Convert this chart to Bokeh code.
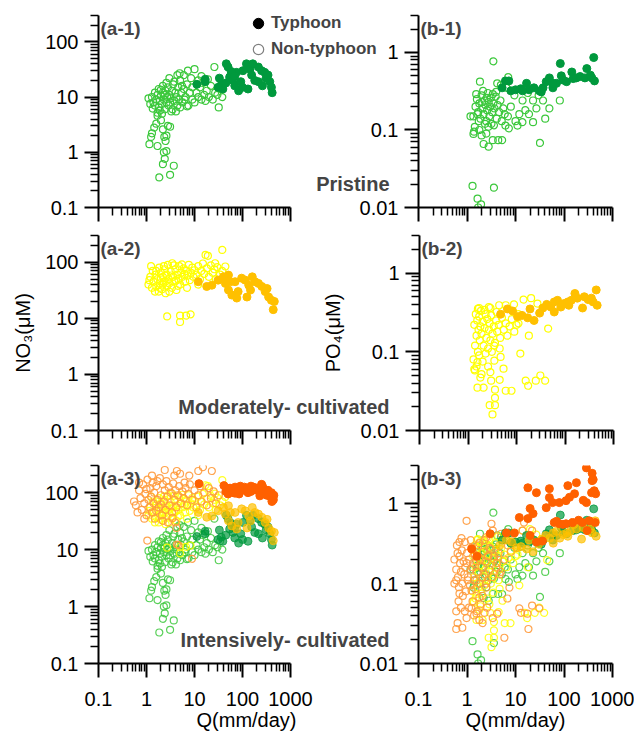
import math
from bokeh.plotting import figure
from bokeh.layouts import column, row
from bokeh.models import (Range1d, FixedTicker, CustomJSTickFormatter, Label,
                          Legend, LegendItem)
from bokeh.embed import file_html
from bokeh.resources import INLINE

FONT = "Liberation Sans"
NAN = float("nan")

# ---------------- data (Q mm/day, concentration uM) ----------------
PRI_NO3_NT = [(1.85,0.35),(3.1,0.39),(3.7,0.57),(2.2,0.61),(2.4,0.76),(2.3,1.0),(2.6,1.05),(1.15,1.4),(1.7,1.3),(1.3,2.2),(1.25,1.9),(2.35,1.9),(2.6,2.0),(2.2,2.6),(3.1,2.9),(1.7,4.6),(1.9,5.7),(1.6,3.3),(2.0,3.8),(2.8,3.0),(1.45,2.8),(2.5,1.6),
    (1.1,9.5),(1.3,10),(1.4,8),(1.5,7),(1.6,9),(1.7,11),(1.8,6.5),(1.9,8.5),(2.0,10.5),(2.1,7.5),(2.2,12),(2.3,9),(2.4,6),(2.5,13),(2.6,8),(2.7,10),(2.8,15),(2.9,7),(3.0,11),(3.2,9.5),(3.4,13),(3.5,6),(3.6,17),(3.8,8.5),(4.0,12),(4.2,10),(4.4,7),(4.6,15),(4.8,9),(5.0,20),(5.3,12),(5.6,8),(6.0,14),(6.5,10),(7.0,17),(7.5,7),(8.0,12),(9.0,9),(1.5,12),(1.8,14),(2.2,16),(2.6,18),(3.0,22),(3.3,5.5),(1.7,5.2),(2.1,5.0),(4.4,25),(3.8,19),(5.5,16),(1.2,7.5),(1.35,6.2),(2.4,11),(3.1,8),(2.0,13.5),(4.1,5.5),(5.0,6.5),(6.2,9),(7.0,6.8),
    (4.9,27),(7.3,30),(10,32),(26,35),(32,6.5),(38,10),(10,8),(11,12),(12,10),(13,15),(14,9),(15,18),(16,11),(17,8.5),(18,13),(20,10),(22,16),(24,9),(27,12),(30,11),(34,14),(12,20),(9,15),(8.5,22),(14,24),(19,21),(6,25)]
PRI_NO3_T = [(11.2,17),(16.7,21),(16.7,19),(33,22),(36,16.5),(46,40),(50,35),(54,23),(63,20),(69,16),(83,13),(92,19),(75,28),(102,30),(121,40),(143,32),(155,25),(164,40),(214,35),(290,28),(310,22),(370,19),(400,15),(415,12),(215,19),(180,20),(260,16),(130,14),(39,14),(31,15),(58,29),(69,24),(340,25),(100,15),(250,30),(45,18)]

PRI_PO4_NT = [(3.5,0.77),(1.85,0.42),(7.1,0.48),(1.3,0.019),(3.6,0.018),(1.65,0.013),(1.95,0.011),(1.7,0.010),(32,0.068),
    (1.18,0.15),(1.35,0.15),(1.45,0.11),(1.36,0.089),(1.4,0.095),(2.2,0.066),(2.8,0.061),(3.4,0.074),(4.4,0.074),(5.3,0.074),(2.0,0.085),(2.5,0.09),(1.8,0.1),
    (1.5,0.2),(1.6,0.25),(1.7,0.17),(1.8,0.22),(1.9,0.14),(2.0,0.28),(2.1,0.19),(2.2,0.16),(2.3,0.24),(2.4,0.21),(2.5,0.13),(2.6,0.18),(2.7,0.3),(2.8,0.23),(2.9,0.15),(3.0,0.2),(3.1,0.26),(3.2,0.12),(3.3,0.17),(3.5,0.22),(3.7,0.19),(3.9,0.27),(4.1,0.14),(4.3,0.21),(4.6,0.17),(4.9,0.24),(5.2,0.13),(5.6,0.19),(6.0,0.16),(1.55,0.29),(1.75,0.13),(2.15,0.32),(2.55,0.26),(3.4,0.29),(4.0,0.31),(2.35,0.12),(2.05,0.23),(2.75,0.11),(3.6,0.115),(1.65,0.16),
    (82,0.24),(50,0.19),(41,0.14),(23,0.126),(19,0.16),(13.9,0.126),(11,0.114),(7.3,0.105),(6.2,0.114),(23,0.24),(37,0.24),(14,0.24),(27,0.19),(16,0.18),(12,0.16),(8,0.2),(9.5,0.28),(7,0.15),(10,0.13),(18,0.3),(30,0.28),(6.5,0.35),(5,0.38),(4.2,0.4)]
PRI_PO4_T = [(5.3,0.35),(6.2,0.43),(7.3,0.43),(8,0.32),(10,0.33),(12.8,0.34),(16.9,0.40),(19,0.33),(24,0.35),(34,0.31),(37,0.35),(43,0.42),(50,0.47),(59,0.35),(70,0.40),(84,0.72),(88,0.50),(96,0.44),(113,0.42),(145,0.56),(155,0.46),(180,0.47),(215,0.49),(270,0.47),(295,0.62),(350,0.51),(410,0.86),(425,0.43),(375,0.47),(59,0.40),(31,0.32),(14,0.32)]

MOD_NO3_NT = [(1.1,40),(1.2,55),(1.3,35),(1.35,70),(1.4,45),(1.5,30),(1.55,60),(1.6,37),(1.7,50),(1.8,30),(1.85,80),(1.9,42),(2.0,65),(2.1,33),(2.2,55),(2.3,45),(2.4,75),(2.5,28),(2.6,60),(2.7,38),(2.8,90),(2.9,50),(3.0,42),(3.2,68),(3.4,35),(3.45,96),(3.6,55),(3.8,45),(4.0,75),(4.2,32),(4.4,60),(4.6,50),(4.8,85),(5.0,40),(5.3,65),(5.6,55),(6.0,78),(6.4,45),(6.8,70),(7.2,58),(7.6,90),(8.0,48),(8.5,65),(9.0,80),(9.5,55),(10,72),(11,60),(12,85),(13,50),(14,70),(15,95),(16,62),(18,78),(20,55),(22,88),(24,65),(26,75),(28,50),(30,82),(34,60),(38,70),(17,135),(19,130),(38,166),(27,96),(44,84),
    (2.7,10.8),(5.0,11.2),(6.7,11.2),(8.3,11.8),(5.0,8.6),(1.25,85),(2.2,40),(3.0,30),(4.5,38),(7,35),(12,40),(1.15,48),(1.6,70),(2.3,85),(3.7,88),(5.5,92),(2.0,52),(3.3,58),(4.1,47),(6.2,62),(1.9,35),(2.5,45)]
MOD_NO3_T = [(12,45),(18,37),(23,39),(31,48),(40,55),(51,59),(44,42),(51,32),(60,26),(76,23),(81,30),(96,52),(114,48),(135,39),(147,32),(182,45),(215,42),(253,37),(297,30),(350,24),(325,34),(400,21),(460,20),(437,14.3),(70,45),(124,24),(56,45),(160,55)]

MOD_PO4_NT = [(1.69,0.36),(2.7,0.37),(4.4,0.39),(6.0,0.39),(8.9,0.40),(14,0.46),(20,0.48),(27,0.41),(45,0.197),(12,0.095),(15.5,0.043),(17.4,0.037),(25,0.043),(31,0.050),(39,0.043),(18,0.16),(11,0.23),(5.4,0.061),(4.5,0.044),(6.0,0.032),(7.9,0.032),(3.6,0.033),(3.6,0.026),(2.8,0.021),(3.6,0.021),(3.2,0.016),(2.1,0.035),(1.57,0.035),(1.39,0.058),(1.57,0.074),(1.8,0.047),(2.9,0.055),(3.5,0.077),(3.0,0.043),(4.7,0.086),
    (1.35,0.22),(1.4,0.12),(1.45,0.3),(1.5,0.16),(1.55,0.25),(1.6,0.1),(1.65,0.19),(1.7,0.28),(1.75,0.14),(1.8,0.21),(1.85,0.33),(1.9,0.17),(2.0,0.24),(2.1,0.12),(2.2,0.2),(2.3,0.3),(2.4,0.15),(2.5,0.26),(2.6,0.11),(2.7,0.19),(2.8,0.23),(2.9,0.14),(3.0,0.29),(3.2,0.17),(3.4,0.21),(3.6,0.13),(3.8,0.25),(4.0,0.18),(4.3,0.22),(4.6,0.15),(5.0,0.27),(5.5,0.19),(6.0,0.23),(6.5,0.16),(7.2,0.21),(8.0,0.26),(9.0,0.18),(10,0.22),(11,0.3),(1.3,0.08),(1.5,0.065),(1.7,0.09),(2.0,0.075),(2.3,0.095),(1.35,0.06),(1.9,0.052),(2.6,0.065),(3.1,0.1),(3.5,0.12),(4.5,0.11),(2.2,0.34),(2.9,0.36),(3.9,0.32),(1.6,0.35)]
MOD_PO4_T = [(4.7,0.30),(6.5,0.35),(8.3,0.33),(10.5,0.28),(13,0.29),(17,0.27),(19,0.35),(23,0.25),(30,0.31),(35,0.36),(42,0.40),(51,0.37),(60,0.43),(70,0.45),(82,0.37),(96,0.41),(120,0.39),(135,0.45),(160,0.55),(180,0.48),(230,0.36),(250,0.50),(300,0.46),(350,0.48),(380,0.43),(440,0.61),(460,0.39),(60,0.32),(115,0.43)]

INT_NO3_NT = [(15,280),(23,240),(12,240),(7.8,200),(6.2,150),(3.8,200),(4.3,240),(5.0,215),
    (0.6,60),(0.65,45),(0.7,110),(0.75,80),(0.8,50),(0.85,140),(0.9,65),(0.95,95),(1.0,40),(1.05,170),(1.1,75),(1.15,55),(1.2,120),(1.25,85),(1.3,45),(1.35,150),(1.4,65),(1.45,100),(1.5,35),(1.6,130),(1.7,75),(1.8,55),(1.9,180),(2.0,90),(2.1,40),(2.2,140),(2.3,70),(2.4,110),(2.5,50),(2.6,160),(2.7,85),(2.8,30),(2.9,125),(3.0,60),(3.2,100),(3.4,45),(3.6,145),(3.8,75),(4.0,110),(4.2,55),(4.5,90),(4.8,130),(5.2,65),(5.6,105),(6.0,80),(6.5,120),(7.0,60),(7.5,95),(8.0,140),(9.0,75),(10,110),(11,55),(12,90),(13,130),(14,70),(16,100),(18,60),(20,120),(22,80),(25,105),(28,65),(32,90),(0.55,70),(0.9,35),(1.3,200),(2.2,32),(3.5,36),(4.2,24),(4.0,30),(1.7,160),(2.4,250),(0.7,150),(1.0,115),(1.6,48),(2.0,62),
    (1.04,14.4),(8.9,6.9),(4.6,12),(4.3,12.3)]
INT_NO3_T = [(12.4,144),(41,133),(52,118),(45,105),(50,95),(55,120),(60,110),(65,100),(70,125),(75,115),(80,105),(85,95),(90,130),(95,120),(100,110),(110,125),(120,115),(130,100),(140,120),(150,130),(160,110),(170,125),(180,115),(200,120),(220,105),(240,95),(260,130),(280,115),(300,100),(320,90),(340,110),(360,95),(380,85),(400,100),(420,80),(440,75),(450,90),(410,70),(130,120),(150,105),(90,112),(70,98),(250,140),(230,88)]

INT_PO4_NT = [(0.98,0.61),(0.64,0.24),(0.70,0.33),(0.77,0.37),(0.6,0.11),(0.55,0.10),(0.7,0.075),(0.67,0.06),(0.64,0.032),(0.6,0.027),(0.8,0.028),(0.98,0.037),(1.24,0.049),(1.57,0.042),(1.8,0.035),(2.1,0.032),(2.3,0.043),(3.4,0.037),(4.2,0.042),(5.9,0.021),(6.8,0.065),(7.5,0.089),(12,0.049),(13,0.043),(17.6,0.042),(18.5,0.027),(22,0.053),(31,0.049),(3.2,0.56),(3.4,0.46),(5.1,0.42),(2.9,0.28),(3.7,0.22),(4.2,0.18),(4.7,0.13),(1.57,0.19),(1.3,0.16),(1.24,0.082),(1.57,0.11),(2.1,0.12),(2.5,0.089),(1.8,0.067),(1.03,0.11),(0.98,0.18),(1.24,0.28),(1.8,0.32),(2.3,0.35),(14,0.46),(22,0.46),(15,0.58),(8.7,0.42),(10.5,0.28),
    (0.55,0.2),(0.6,0.15),(0.62,0.3),(0.65,0.12),(0.68,0.09),(0.7,0.22),(0.72,0.18),(0.75,0.14),(0.78,0.26),(0.8,0.1),(0.82,0.07),(0.85,0.19),(0.88,0.13),(0.9,0.33),(0.92,0.16),(0.95,0.08),(1.0,0.24),(1.05,0.12),(1.1,0.2),(1.15,0.095),(1.2,0.15),(1.25,0.28),(1.3,0.06),(1.35,0.18),(1.4,0.11),(1.45,0.23),(1.5,0.085),(1.6,0.14),(1.7,0.3),(1.8,0.1),(1.9,0.2),(2.0,0.16),(2.1,0.07),(2.2,0.25),(2.3,0.13),(2.4,0.19),(2.5,0.1),(2.7,0.22),(2.9,0.15),(3.1,0.27),(3.3,0.12),(3.6,0.2),(4.0,0.16),(4.5,0.24),(5.0,0.14),(6.0,0.2),(7.0,0.3),(8.0,0.25),(1.1,0.05),(0.75,0.05),(0.9,0.045),(1.4,0.04),(1.9,0.055),(2.6,0.05),(0.6,0.045),(1.2,0.35),(2.5,0.38),(1.6,0.045)]
INT_PO4_T = [(290,2.8),(380,2.4),(380,1.94),(120,1.68),(180,1.83),(50,1.54),(18,1.58),(27,1.37),(450,1.33),(50,1.19),(58,1.03),(80,1.03),(110,1.09),(165,1.33),(290,1.03),(370,1.37),(420,1.45),(43,0.89),(20,0.87),(23,0.75),(18,0.65),(12,0.67),(63,0.58),(80,0.56),(110,0.56),(150,0.58),(240,0.58),(330,0.61),(440,0.58),(300,0.46),(36,0.34),(27,0.33),(9.5,0.43),(6.5,0.43),(3.0,0.42),(1.6,0.22),(1.25,0.27),(20,0.40),(70,0.6),(200,0.62),(130,1.2),(250,1.1),(400,2.0),(95,0.55)]

# tick values
X_MAJOR = [0.1, 1, 10, 100, 1000]
X_MINOR = [m * d for d in (0.1, 1, 10, 100) for m in range(2, 10)]
NO3_MAJOR = [0.1, 1, 10, 100]
NO3_MINOR = [m * d for d in (0.1, 1, 10) for m in range(2, 10)] + [200, 300]
PO4_MAJOR = [0.01, 0.1, 1]
PO4_MINOR = [m * d for d in (0.01, 0.1) for m in range(2, 10)] + [2, 3]

PANEL_TAGS = [["(a-1)", "(b-1)"], ["(a-2)", "(b-2)"], ["(a-3)", "(b-3)"]]
GROUP_NAMES = ["Pristine", "Moderately- cultivated", "Intensively- cultivated"]
LEGEND_LABELS = ["Typhoon", "Non-typhoon"]

C = {
    "pri_nt": "#3cc83c", "pri_t": "#00993d",
    "mod_nt": "#ffff00", "mod_t": "#ffc000",
    "int_nt": "#ff9a3c", "int_t": "#ff6000",
}

# layout (px)
FRAME_H = [192, 195, 198]
BORDER_T = [15, 12, 19]
BORDER_B = [16, 16, 66]
AXIS_W_L = 192          # px covered by the 0.1..1000 axis, left column
FRAME_W_L = 296         # left frame is extended to the right to hold the texts
X_END_L = 1000 * 10 ** ((FRAME_W_L - AXIS_W_L) / (AXIS_W_L / 4))
TOP_EXTRA = 11          # top-row frames are extended upwards to hold the legend


def style_axis(ax, show_labels):
    ax.axis_line_width = 2
    ax.major_tick_line_width = 2
    ax.minor_tick_line_width = 1.5
    ax.major_tick_out = 14
    ax.major_tick_in = 0
    ax.minor_tick_out = 8
    ax.minor_tick_in = 0
    ax.major_label_text_font = FONT
    ax.major_label_text_font_size = "20px"
    ax.major_label_text_color = "black"
    ax.axis_label_text_font = FONT
    ax.axis_label_text_font_size = "20px"
    ax.axis_label_text_font_style = "normal"
    ax.axis_label_text_color = "black"
    if show_labels:
        ax.formatter = CustomJSTickFormatter(code="return tick.toString();")
    else:
        ax.formatter = CustomJSTickFormatter(code="return '';")
        ax.major_label_standoff = 0


def pts(p, pairs, color, filled, alpha=1.0):
    q = [a for a, b in pairs]
    v = [b for a, b in pairs]
    if filled:
        p.scatter(q, v, size=8, fill_color=color, line_color=color,
                  fill_alpha=alpha, line_alpha=alpha)
    else:
        p.scatter(q, v, size=7, fill_color=None, line_color=color,
                  line_width=1.2, line_alpha=alpha)


def make_panel(r, c):
    is_left = c == 0
    y0, y1 = (0.1, 300) if is_left else (0.01, 3)
    fh = FRAME_H[r]
    bt = BORDER_T[r]
    y_end = y1
    if r == 0:
        px_per_dec = fh / math.log10(y1 / y0)
        y_end = y1 * 10 ** (TOP_EXTRA / px_per_dec)
        fh += TOP_EXTRA
        bt -= TOP_EXTRA
    p = figure(x_axis_type="log", y_axis_type="log",
               x_range=Range1d(0.1, X_END_L if is_left else 1000),
               y_range=Range1d(y0, y_end),
               frame_width=FRAME_W_L if is_left else 194, frame_height=fh,
               min_border_left=98 if is_left else 100,
               min_border_right=0 if is_left else 22,
               min_border_top=bt, min_border_bottom=BORDER_B[r],
               output_backend="svg", toolbar_location=None,
               background_fill_color=None, border_fill_color=None,
               outline_line_color=None)
    p.xgrid.visible = False
    p.ygrid.visible = False
    p.xaxis.ticker = FixedTicker(ticks=X_MAJOR, minor_ticks=X_MINOR)
    p.xaxis.bounds = (0.1, 1000)
    p.yaxis.bounds = (y0, y1)
    if is_left:
        p.yaxis.ticker = FixedTicker(ticks=NO3_MAJOR, minor_ticks=NO3_MINOR)
    else:
        p.yaxis.ticker = FixedTicker(ticks=PO4_MAJOR, minor_ticks=PO4_MINOR)
    style_axis(p.xaxis[0], r == 2)
    style_axis(p.yaxis[0], True)
    p.yaxis.major_label_standoff = 6
    if r == 2:
        p.xaxis.major_label_standoff = 14
        p.xaxis.axis_label = "Q(mm/day)"
        p.xaxis.axis_label_standoff = 0
    if r == 1:
        if is_left:
            p.yaxis.axis_label = "NO\u2083(\u03bcM)"
            p.yaxis.axis_label_standoff = 8
        else:
            p.yaxis.axis_label = "PO\u2084(\u03bcM)"
            p.yaxis.axis_label_standoff = 14

    p.add_layout(Label(x=2, y=FRAME_H[r] - 13, x_units="screen", y_units="screen",
                       text=PANEL_TAGS[r][c], text_font=FONT, text_font_size="19px",
                       text_font_style="bold", text_baseline="middle"))
    return p


figs = [[make_panel(r, c) for c in range(2)] for r in range(3)]

# row 1: pristine
pts(figs[0][0], PRI_NO3_NT, C["pri_nt"], False)
pts(figs[0][0], PRI_NO3_T, C["pri_t"], True)
pts(figs[0][1], PRI_PO4_NT, C["pri_nt"], False)
pts(figs[0][1], PRI_PO4_T, C["pri_t"], True)
# row 2: moderate
pts(figs[1][0], MOD_NO3_NT, C["mod_nt"], False)
pts(figs[1][0], MOD_NO3_T, C["mod_t"], True)
pts(figs[1][1], MOD_PO4_NT, C["mod_nt"], False)
pts(figs[1][1], MOD_PO4_T, C["mod_t"], True)
# row 3: all groups together
for col, (pri_nt, pri_t, mod_nt, mod_t, int_nt, int_t) in enumerate([
        (PRI_NO3_NT, PRI_NO3_T, MOD_NO3_NT, MOD_NO3_T, INT_NO3_NT, INT_NO3_T),
        (PRI_PO4_NT, PRI_PO4_T, MOD_PO4_NT, MOD_PO4_T, INT_PO4_NT, INT_PO4_T)]):
    p = figs[2][col]
    pts(p, pri_nt, C["pri_nt"], False, 0.85)
    pts(p, mod_nt, C["mod_nt"], False, 0.85)
    pts(p, int_nt, C["int_nt"], False, 0.9)
    pts(p, pri_t, C["pri_t"], True, 0.7)
    pts(p, mod_t, C["mod_t"], True, 0.7)
    pts(p, int_t, C["int_t"], True, 1.0)

# group names
for r in range(3):
    figs[r][0].add_layout(Label(x=291, y=24, x_units="screen", y_units="screen",
                                text=GROUP_NAMES[r], text_font=FONT, text_font_size="20px",
                                text_font_style="bold", text_align="right",
                                text_baseline="middle"))

# legend (renderers hold no drawable point; they only carry the marker style)
pa = figs[0][0]
r_t = pa.scatter([NAN], [NAN], size=11, fill_color="black", line_color="black")
r_n = pa.scatter([NAN], [NAN], size=11, fill_color=None, line_color="#7f7f7f", line_width=1.2)
leg = Legend(items=[LegendItem(label=LEGEND_LABELS[0], renderers=[r_t]),
                    LegendItem(label=LEGEND_LABELS[1], renderers=[r_n])],
             location=(147, 145), glyph_width=26, glyph_height=26, label_height=26,
             label_standoff=0, spacing=0, padding=0, margin=0,
             label_text_font=FONT, label_text_font_size="17px",
             label_text_font_style="bold", background_fill_alpha=0,
             border_line_color=None)
pa.add_layout(leg)

for r in range(3):
    figs[r][1].margin = (0, 0, 0, -76)

layout = column(*[row(figs[r][0], figs[r][1]) for r in range(3)])

open("out.html", "w").write(file_html(layout, INLINE))
